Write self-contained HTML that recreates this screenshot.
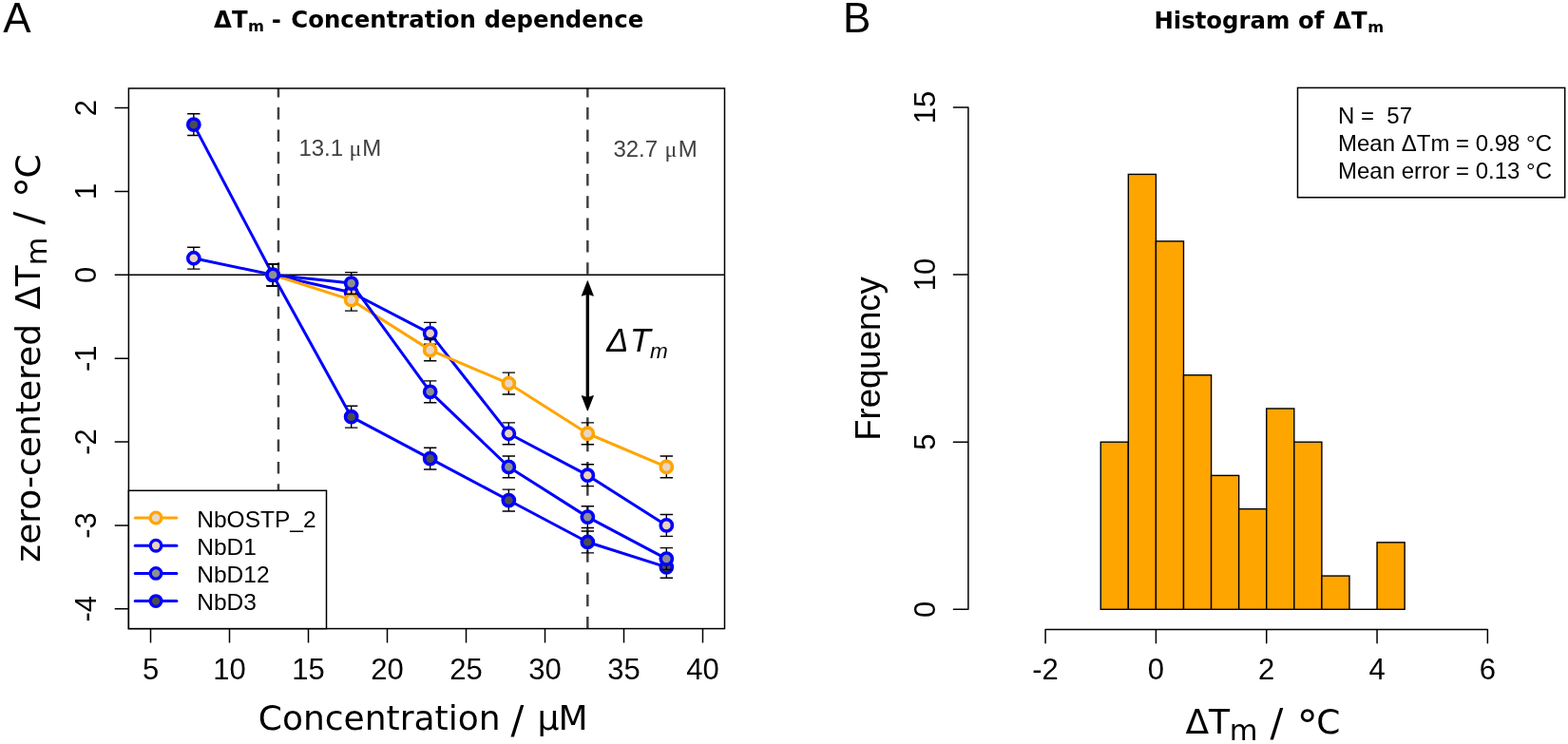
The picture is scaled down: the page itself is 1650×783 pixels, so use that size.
<!DOCTYPE html>
<html><head><meta charset="utf-8"><title>Figure</title>
<style>html,body{margin:0;padding:0;background:#fff;} svg{display:block;}</style></head>
<body><svg width="1650" height="783" viewBox="0 0 1650 783">
<rect width="1650" height="783" fill="#fff"/>
<line x1='135.4' y1='289.30' x2='762.5' y2='289.30' stroke='#000' stroke-width='1.4'/>
<line x1='292.96' y1='661.6' x2='292.96' y2='93.0' stroke='#404040' stroke-width='2.5' stroke-dasharray='12.6 10.7'/>
<line x1='618.32' y1='661.6' x2='618.32' y2='93.0' stroke='#404040' stroke-width='2.5' stroke-dasharray='12.6 10.7'/>
<line x1='618.32' y1='306' x2='618.32' y2='422' stroke='#000' stroke-width='3.4'/>
<polygon points='618.32,295.6 612.22,311.3 618.32,309.3 624.42,311.3' fill='#000' stroke='#000' stroke-width='0.8' stroke-linejoin='round'/>
<polygon points='618.32,432.2 612.22,416.5 618.32,418.5 624.42,416.5' fill='#000' stroke='#000' stroke-width='0.8' stroke-linejoin='round'/>
<path d='M203.82,260.30V283.15M197.12,260.30H210.52M197.12,283.15H210.52' stroke='#000' stroke-width='1.4' fill='none'/>
<path d='M287.15,277.88V300.72M280.45,277.88H293.85M280.45,300.72H293.85' stroke='#000' stroke-width='1.4' fill='none'/>
<path d='M369.65,296.33V319.18M362.95,296.33H376.35M362.95,319.18H376.35' stroke='#000' stroke-width='1.4' fill='none'/>
<path d='M452.65,339.39V362.23M445.95,339.39H459.35M445.95,362.23H459.35' stroke='#000' stroke-width='1.4' fill='none'/>
<path d='M535.32,444.83V467.68M528.62,444.83H542.02M528.62,467.68H542.02' stroke='#000' stroke-width='1.4' fill='none'/>
<path d='M618.32,488.76V511.61M611.62,488.76H625.02M611.62,511.61H625.02' stroke='#000' stroke-width='1.4' fill='none'/>
<path d='M701.32,541.49V564.33M694.62,541.49H708.02M694.62,564.33H708.02' stroke='#000' stroke-width='1.4' fill='none'/>
<polyline points='203.82,271.73 287.15,289.30 369.65,307.75 452.65,350.81 535.32,456.25 618.32,500.19 701.32,552.91' fill='none' stroke='#0000ff' stroke-width='3' stroke-linejoin='round' stroke-linecap='round'/>
<circle cx='203.82' cy='271.73' r='6.1' fill='#eed2bc' stroke='#0000ff' stroke-width='3.6'/>
<circle cx='287.15' cy='289.30' r='6.1' fill='#eed2bc' stroke='#0000ff' stroke-width='3.6'/>
<circle cx='369.65' cy='307.75' r='6.1' fill='#eed2bc' stroke='#0000ff' stroke-width='3.6'/>
<circle cx='452.65' cy='350.81' r='6.1' fill='#eed2bc' stroke='#0000ff' stroke-width='3.6'/>
<circle cx='535.32' cy='456.25' r='6.1' fill='#eed2bc' stroke='#0000ff' stroke-width='3.6'/>
<circle cx='618.32' cy='500.19' r='6.1' fill='#eed2bc' stroke='#0000ff' stroke-width='3.6'/>
<circle cx='701.32' cy='552.91' r='6.1' fill='#eed2bc' stroke='#0000ff' stroke-width='3.6'/>
<path d='M287.15,277.88V300.72M280.45,277.88H293.85M280.45,300.72H293.85' stroke='#000' stroke-width='1.4' fill='none'/>
<path d='M369.65,304.24V327.08M362.95,304.24H376.35M362.95,327.08H376.35' stroke='#000' stroke-width='1.4' fill='none'/>
<path d='M452.65,356.96V379.81M445.95,356.96H459.35M445.95,379.81H459.35' stroke='#000' stroke-width='1.4' fill='none'/>
<path d='M535.32,392.11V414.95M528.62,392.11H542.02M528.62,414.95H542.02' stroke='#000' stroke-width='1.4' fill='none'/>
<path d='M618.32,444.83V467.68M611.62,444.83H625.02M611.62,467.68H625.02' stroke='#000' stroke-width='1.4' fill='none'/>
<path d='M701.32,479.98V502.82M694.62,479.98H708.02M694.62,502.82H708.02' stroke='#000' stroke-width='1.4' fill='none'/>
<polyline points='287.15,289.30 369.65,315.66 452.65,368.38 535.32,403.53 618.32,456.25 701.32,491.40' fill='none' stroke='#ffa500' stroke-width='3' stroke-linejoin='round' stroke-linecap='round'/>
<circle cx='287.15' cy='289.30' r='6.1' fill='#ead6c9' stroke='#ffa500' stroke-width='3.6'/>
<circle cx='369.65' cy='315.66' r='6.1' fill='#ead6c9' stroke='#ffa500' stroke-width='3.6'/>
<circle cx='452.65' cy='368.38' r='6.1' fill='#ead6c9' stroke='#ffa500' stroke-width='3.6'/>
<circle cx='535.32' cy='403.53' r='6.1' fill='#ead6c9' stroke='#ffa500' stroke-width='3.6'/>
<circle cx='618.32' cy='456.25' r='6.1' fill='#ead6c9' stroke='#ffa500' stroke-width='3.6'/>
<circle cx='701.32' cy='491.40' r='6.1' fill='#ead6c9' stroke='#ffa500' stroke-width='3.6'/>
<path d='M203.82,119.71V142.56M197.12,119.71H210.52M197.12,142.56H210.52' stroke='#000' stroke-width='1.4' fill='none'/>
<path d='M287.15,277.88V300.72M280.45,277.88H293.85M280.45,300.72H293.85' stroke='#000' stroke-width='1.4' fill='none'/>
<path d='M369.65,427.26V450.10M362.95,427.26H376.35M362.95,450.10H376.35' stroke='#000' stroke-width='1.4' fill='none'/>
<path d='M452.65,471.19V494.04M445.95,471.19H459.35M445.95,494.04H459.35' stroke='#000' stroke-width='1.4' fill='none'/>
<path d='M535.32,515.13V537.97M528.62,515.13H542.02M528.62,537.97H542.02' stroke='#000' stroke-width='1.4' fill='none'/>
<path d='M618.32,559.06V581.91M611.62,559.06H625.02M611.62,581.91H625.02' stroke='#000' stroke-width='1.4' fill='none'/>
<path d='M701.32,585.42V608.27M694.62,585.42H708.02M694.62,608.27H708.02' stroke='#000' stroke-width='1.4' fill='none'/>
<polyline points='203.82,131.13 287.15,289.30 369.65,438.68 452.65,482.61 535.32,526.55 618.32,570.48 701.32,596.85' fill='none' stroke='#0000ff' stroke-width='3' stroke-linejoin='round' stroke-linecap='round'/>
<circle cx='203.82' cy='131.13' r='6.1' fill='#4d4d4d' stroke='#0000ff' stroke-width='3.6'/>
<circle cx='287.15' cy='289.30' r='6.1' fill='#4d4d4d' stroke='#0000ff' stroke-width='3.6'/>
<circle cx='369.65' cy='438.68' r='6.1' fill='#4d4d4d' stroke='#0000ff' stroke-width='3.6'/>
<circle cx='452.65' cy='482.61' r='6.1' fill='#4d4d4d' stroke='#0000ff' stroke-width='3.6'/>
<circle cx='535.32' cy='526.55' r='6.1' fill='#4d4d4d' stroke='#0000ff' stroke-width='3.6'/>
<circle cx='618.32' cy='570.48' r='6.1' fill='#4d4d4d' stroke='#0000ff' stroke-width='3.6'/>
<circle cx='701.32' cy='596.85' r='6.1' fill='#4d4d4d' stroke='#0000ff' stroke-width='3.6'/>
<path d='M287.15,277.88V300.72M280.45,277.88H293.85M280.45,300.72H293.85' stroke='#000' stroke-width='1.4' fill='none'/>
<path d='M369.65,286.66V309.51M362.95,286.66H376.35M362.95,309.51H376.35' stroke='#000' stroke-width='1.4' fill='none'/>
<path d='M452.65,400.89V423.74M445.95,400.89H459.35M445.95,423.74H459.35' stroke='#000' stroke-width='1.4' fill='none'/>
<path d='M535.32,479.98V502.82M528.62,479.98H542.02M528.62,502.82H542.02' stroke='#000' stroke-width='1.4' fill='none'/>
<path d='M618.32,532.70V555.55M611.62,532.70H625.02M611.62,555.55H625.02' stroke='#000' stroke-width='1.4' fill='none'/>
<path d='M701.32,576.63V599.48M694.62,576.63H708.02M694.62,599.48H708.02' stroke='#000' stroke-width='1.4' fill='none'/>
<polyline points='287.15,289.30 369.65,298.09 452.65,412.32 535.32,491.40 618.32,544.12 701.32,588.06' fill='none' stroke='#0000ff' stroke-width='3' stroke-linejoin='round' stroke-linecap='round'/>
<circle cx='287.15' cy='289.30' r='6.1' fill='#8f8f8f' stroke='#0000ff' stroke-width='3.6'/>
<circle cx='369.65' cy='298.09' r='6.1' fill='#8f8f8f' stroke='#0000ff' stroke-width='3.6'/>
<circle cx='452.65' cy='412.32' r='6.1' fill='#8f8f8f' stroke='#0000ff' stroke-width='3.6'/>
<circle cx='535.32' cy='491.40' r='6.1' fill='#8f8f8f' stroke='#0000ff' stroke-width='3.6'/>
<circle cx='618.32' cy='544.12' r='6.1' fill='#8f8f8f' stroke='#0000ff' stroke-width='3.6'/>
<circle cx='701.32' cy='588.06' r='6.1' fill='#8f8f8f' stroke='#0000ff' stroke-width='3.6'/>
<rect x='135.4' y='93.0' width='627.10' height='568.60' fill='none' stroke='#000' stroke-width='1.5'/>
<path d='M158.50,661.6V676.5 M241.50,661.6V676.5 M324.50,661.6V676.5 M407.50,661.6V676.5 M490.50,661.6V676.5 M573.50,661.6V676.5 M656.50,661.6V676.5 M739.50,661.6V676.5 M135.4,640.78H120.7 M135.4,552.91H120.7 M135.4,465.04H120.7 M135.4,377.17H120.7 M135.4,289.30H120.7 M135.4,201.43H120.7 M135.4,113.56H120.7' stroke='#000' stroke-width='1.5' fill='none'/>
<rect x='135.4' y='516.3' width='208.10' height='145.30' fill='#fff' stroke='#000' stroke-width='1.5'/>
<line x1='142.2' y1='545.00' x2='185.9' y2='545.00' stroke='#ffa500' stroke-width='3' stroke-linecap='round'/>
<circle cx='164.05' cy='545.00' r='5.8' fill='#ead6c9' stroke='#ffa500' stroke-width='3.3'/>
<line x1='142.2' y1='574.20' x2='185.9' y2='574.20' stroke='#0000ff' stroke-width='3' stroke-linecap='round'/>
<circle cx='164.05' cy='574.20' r='5.8' fill='#eed2bc' stroke='#0000ff' stroke-width='3.3'/>
<line x1='142.2' y1='603.40' x2='185.9' y2='603.40' stroke='#0000ff' stroke-width='3' stroke-linecap='round'/>
<circle cx='164.05' cy='603.40' r='5.8' fill='#8f8f8f' stroke='#0000ff' stroke-width='3.3'/>
<line x1='142.2' y1='632.60' x2='185.9' y2='632.60' stroke='#0000ff' stroke-width='3' stroke-linecap='round'/>
<circle cx='164.05' cy='632.60' r='5.8' fill='#4d4d4d' stroke='#0000ff' stroke-width='3.3'/>
<rect x='1158.26' y='465.20' width='29.08' height='176.10' fill='#ffa500' stroke='#000' stroke-width='1.4'/>
<rect x='1187.34' y='183.44' width='29.08' height='457.86' fill='#ffa500' stroke='#000' stroke-width='1.4'/>
<rect x='1216.42' y='253.88' width='29.08' height='387.42' fill='#ffa500' stroke='#000' stroke-width='1.4'/>
<rect x='1245.50' y='394.76' width='29.08' height='246.54' fill='#ffa500' stroke='#000' stroke-width='1.4'/>
<rect x='1274.58' y='500.42' width='29.08' height='140.88' fill='#ffa500' stroke='#000' stroke-width='1.4'/>
<rect x='1303.66' y='535.64' width='29.08' height='105.66' fill='#ffa500' stroke='#000' stroke-width='1.4'/>
<rect x='1332.74' y='429.98' width='29.08' height='211.32' fill='#ffa500' stroke='#000' stroke-width='1.4'/>
<rect x='1361.82' y='465.20' width='29.08' height='176.10' fill='#ffa500' stroke='#000' stroke-width='1.4'/>
<rect x='1390.90' y='606.08' width='29.08' height='35.22' fill='#ffa500' stroke='#000' stroke-width='1.4'/>
<line x1='1419.98' y1='641.30' x2='1449.06' y2='641.30' stroke='#000' stroke-width='1.4'/>
<rect x='1449.06' y='570.86' width='29.08' height='70.44' fill='#ffa500' stroke='#000' stroke-width='1.4'/>
<path d='M1100.10,662.6H1565.38 M1100.10,662.6V676.7 M1216.42,662.6V676.7 M1332.74,662.6V676.7 M1449.06,662.6V676.7 M1565.38,662.6V676.7 M1018.9,641.30V113.00 M1018.9,641.30H1003.4 M1018.9,465.20H1003.4 M1018.9,289.10H1003.4 M1018.9,113.00H1003.4' stroke='#000' stroke-width='1.5' fill='none' stroke-linecap='round'/>
<rect x='1365.5' y='92.4' width='281.20' height='115.40' fill='none' stroke='#000' stroke-width='1.5'/>
<text x='158.50' y='714.6' text-anchor='middle' style="font-family:'Liberation Sans';font-size:31px;font-weight:normal;font-style:normal">5</text>
<text x='241.50' y='714.6' text-anchor='middle' style="font-family:'Liberation Sans';font-size:31px;font-weight:normal;font-style:normal">10</text>
<text x='324.50' y='714.6' text-anchor='middle' style="font-family:'Liberation Sans';font-size:31px;font-weight:normal;font-style:normal">15</text>
<text x='407.50' y='714.6' text-anchor='middle' style="font-family:'Liberation Sans';font-size:31px;font-weight:normal;font-style:normal">20</text>
<text x='490.50' y='714.6' text-anchor='middle' style="font-family:'Liberation Sans';font-size:31px;font-weight:normal;font-style:normal">25</text>
<text x='573.50' y='714.6' text-anchor='middle' style="font-family:'Liberation Sans';font-size:31px;font-weight:normal;font-style:normal">30</text>
<text x='656.50' y='714.6' text-anchor='middle' style="font-family:'Liberation Sans';font-size:31px;font-weight:normal;font-style:normal">35</text>
<text x='739.50' y='714.6' text-anchor='middle' style="font-family:'Liberation Sans';font-size:31px;font-weight:normal;font-style:normal">40</text>
<text x='101.4' y='640.78' text-anchor='middle' transform='rotate(-90 101.4 640.78)' style="font-family:'Liberation Sans';font-size:31px;font-weight:normal;font-style:normal">-4</text>
<text x='101.4' y='552.91' text-anchor='middle' transform='rotate(-90 101.4 552.91)' style="font-family:'Liberation Sans';font-size:31px;font-weight:normal;font-style:normal">-3</text>
<text x='101.4' y='465.04' text-anchor='middle' transform='rotate(-90 101.4 465.04)' style="font-family:'Liberation Sans';font-size:31px;font-weight:normal;font-style:normal">-2</text>
<text x='101.4' y='377.17' text-anchor='middle' transform='rotate(-90 101.4 377.17)' style="font-family:'Liberation Sans';font-size:31px;font-weight:normal;font-style:normal">-1</text>
<text x='101.4' y='289.30' text-anchor='middle' transform='rotate(-90 101.4 289.30)' style="font-family:'Liberation Sans';font-size:31px;font-weight:normal;font-style:normal">0</text>
<text x='101.4' y='201.43' text-anchor='middle' transform='rotate(-90 101.4 201.43)' style="font-family:'Liberation Sans';font-size:31px;font-weight:normal;font-style:normal">1</text>
<text x='101.4' y='113.56' text-anchor='middle' transform='rotate(-90 101.4 113.56)' style="font-family:'Liberation Sans';font-size:31px;font-weight:normal;font-style:normal">2</text>
<text x='1100.10' y='714.9' text-anchor='middle' style="font-family:'Liberation Sans';font-size:31px;font-weight:normal;font-style:normal">-2</text>
<text x='1216.42' y='714.9' text-anchor='middle' style="font-family:'Liberation Sans';font-size:31px;font-weight:normal;font-style:normal">0</text>
<text x='1332.74' y='714.9' text-anchor='middle' style="font-family:'Liberation Sans';font-size:31px;font-weight:normal;font-style:normal">2</text>
<text x='1449.06' y='714.9' text-anchor='middle' style="font-family:'Liberation Sans';font-size:31px;font-weight:normal;font-style:normal">4</text>
<text x='1565.38' y='714.9' text-anchor='middle' style="font-family:'Liberation Sans';font-size:31px;font-weight:normal;font-style:normal">6</text>
<text x='983.9' y='641.30' text-anchor='middle' transform='rotate(-90 983.9 641.30)' style="font-family:'Liberation Sans';font-size:31px;font-weight:normal;font-style:normal">0</text>
<text x='983.9' y='465.20' text-anchor='middle' transform='rotate(-90 983.9 465.20)' style="font-family:'Liberation Sans';font-size:31px;font-weight:normal;font-style:normal">5</text>
<text x='983.9' y='289.10' text-anchor='middle' transform='rotate(-90 983.9 289.10)' style="font-family:'Liberation Sans';font-size:31px;font-weight:normal;font-style:normal">10</text>
<text x='983.9' y='113.00' text-anchor='middle' transform='rotate(-90 983.9 113.00)' style="font-family:'Liberation Sans';font-size:31px;font-weight:normal;font-style:normal">15</text>
<text x='3.20' y='33.80' style="font-family:'Liberation Sans';font-size:44px;font-weight:normal;font-style:normal" fill='#000' >A</text>
<text x='886.90' y='33.80' style="font-family:'Liberation Sans';font-size:44px;font-weight:normal;font-style:normal" fill='#000' >B</text>
<text x='225.10' y='28.70' style="font-family:'DejaVu Sans';font-size:24.4px;font-weight:bold;font-style:normal" fill='#000' >ΔT</text>
<text x='261.00' y='33.30' style="font-family:'DejaVu Sans';font-size:16.3px;font-weight:bold;font-style:normal" fill='#000' >m</text>
<text x='285.70' y='28.70' style="font-family:'DejaVu Sans';font-size:24.4px;font-weight:bold;font-style:normal" fill='#000' >-</text>
<text x='306.30' y='28.70' style="font-family:'DejaVu Sans';font-size:24.4px;font-weight:bold;font-style:normal" fill='#000' >Concentration dependence</text>
<text x='1214.40' y='29.50' style="font-family:'DejaVu Sans';font-size:24.4px;font-weight:bold;font-style:normal" fill='#000' >Histogram of</text>
<text x='1403.00' y='29.50' style="font-family:'DejaVu Sans';font-size:24.4px;font-weight:bold;font-style:normal" fill='#000' >ΔT</text>
<text x='1439.30' y='34.10' style="font-family:'DejaVu Sans';font-size:16.3px;font-weight:bold;font-style:normal" fill='#000' >m</text>
<text x='271.80' y='767.90' style="font-family:'DejaVu Sans';font-size:36.0px;font-weight:normal;font-style:normal" fill='#000' >Concentration</text>
<text x='537.50' y='772.00' style="font-family:'DejaVu Sans';font-size:41px;font-weight:normal;font-style:normal" fill='#000' >/</text>
<text x='565.60' y='767.90' style="font-family:'DejaVu Sans';font-size:36.0px;font-weight:normal;font-style:normal" fill='#000' >µ</text>
<text x='587.60' y='767.90' style="font-family:'DejaVu Sans';font-size:36.0px;font-weight:normal;font-style:normal" fill='#000' >M</text>
<text x='1247.40' y='772.00' style="font-family:'DejaVu Sans';font-size:36.0px;font-weight:normal;font-style:normal" fill='#000' >ΔT</text>
<text x='1293.70' y='779.20' style="font-family:'DejaVu Sans';font-size:30.5px;font-weight:normal;font-style:normal" fill='#000' >m</text>
<text x='1336.50' y='775.00' style="font-family:'DejaVu Sans';font-size:41px;font-weight:normal;font-style:normal" fill='#000' >/</text>
<text x='1364.40' y='778.60' style="font-family:'DejaVu Sans';font-size:45px;font-weight:normal;font-style:normal" fill='#000' >°</text>
<text x='1385.30' y='772.00' style="font-family:'DejaVu Sans';font-size:36.0px;font-weight:normal;font-style:normal" fill='#000' >C</text>
<text x='41.60' y='591.70' transform='rotate(-90 41.60 591.70)' style="font-family:'DejaVu Sans';font-size:36.0px;font-weight:normal;font-style:normal" fill='#000'>zero-centered</text>
<text x='41.60' y='325.80' transform='rotate(-90 41.60 325.80)' style="font-family:'DejaVu Sans';font-size:36.0px;font-weight:normal;font-style:normal" fill='#000'>ΔT</text>
<text x='49.10' y='279.20' transform='rotate(-90 49.10 279.20)' style="font-family:'DejaVu Sans';font-size:30.5px;font-weight:normal;font-style:normal" fill='#000'>m</text>
<text x='44.00' y='236.40' transform='rotate(-90 44.00 236.40)' style="font-family:'DejaVu Sans';font-size:41px;font-weight:normal;font-style:normal" fill='#000'>/</text>
<text x='48.20' y='208.30' transform='rotate(-90 48.20 208.30)' style="font-family:'DejaVu Sans';font-size:45px;font-weight:normal;font-style:normal" fill='#000'>°</text>
<text x='41.60' y='187.50' transform='rotate(-90 41.60 187.50)' style="font-family:'DejaVu Sans';font-size:36.0px;font-weight:normal;font-style:normal" fill='#000'>C</text>
<text x='925.70' y='463.70' transform='rotate(-90 925.70 463.70)' style="font-family:'Liberation Sans';font-size:36.5px;font-weight:normal;font-style:normal" fill='#000'>Frequency</text>
<text x='314.40' y='164.40' style="font-family:'Liberation Sans';font-size:24px;font-weight:normal;font-style:normal" fill='#404040' >13.1</text>
<text x='367.50' y='164.40' style="font-family:'Liberation Serif';font-size:24px;font-weight:normal;font-style:normal" fill='#404040' >μ</text>
<text x='381.30' y='164.40' style="font-family:'Liberation Sans';font-size:24px;font-weight:normal;font-style:normal" fill='#404040' >M</text>
<text x='645.40' y='164.50' style="font-family:'Liberation Sans';font-size:24px;font-weight:normal;font-style:normal" fill='#404040' >32.7</text>
<text x='699.60' y='164.50' style="font-family:'Liberation Serif';font-size:24px;font-weight:normal;font-style:normal" fill='#404040' >μ</text>
<text x='713.80' y='164.50' style="font-family:'Liberation Sans';font-size:24px;font-weight:normal;font-style:normal" fill='#404040' >M</text>
<text x='638.30' y='369.80' style="font-family:'Liberation Sans';font-size:34.6px;font-weight:normal;font-style:italic" fill='#000' >Δ</text>
<text x='662.80' y='369.80' style="font-family:'Liberation Sans';font-size:35.9px;font-weight:normal;font-style:italic" fill='#000' >T</text>
<text x='684.00' y='376.80' style="font-family:'Liberation Sans';font-size:22.5px;font-weight:normal;font-style:italic" fill='#000' >m</text>
<text x='207.30' y='554.60' style="font-family:'Liberation Sans';font-size:24.5px;font-weight:normal;font-style:normal" fill='#000' >NbOSTP_2</text>
<text x='207.30' y='583.80' style="font-family:'Liberation Sans';font-size:24.5px;font-weight:normal;font-style:normal" fill='#000' >NbD1</text>
<text x='207.30' y='613.00' style="font-family:'Liberation Sans';font-size:24.5px;font-weight:normal;font-style:normal" fill='#000' >NbD12</text>
<text x='207.30' y='642.20' style="font-family:'Liberation Sans';font-size:24.5px;font-weight:normal;font-style:normal" fill='#000' >NbD3</text>
<text x='1408.00' y='129.50' style="font-family:'Liberation Sans';font-size:24px;font-weight:normal;font-style:normal" fill='#000' xml:space='preserve'>N =  57</text>
<text x='1408.00' y='159.10' style="font-family:'Liberation Sans';font-size:24px;font-weight:normal;font-style:normal" fill='#000' >Mean ΔTm = 0.98 °C</text>
<text x='1408.00' y='188.20' style="font-family:'Liberation Sans';font-size:24px;font-weight:normal;font-style:normal" fill='#000' >Mean error = 0.13 °C</text>
</svg></body></html>
